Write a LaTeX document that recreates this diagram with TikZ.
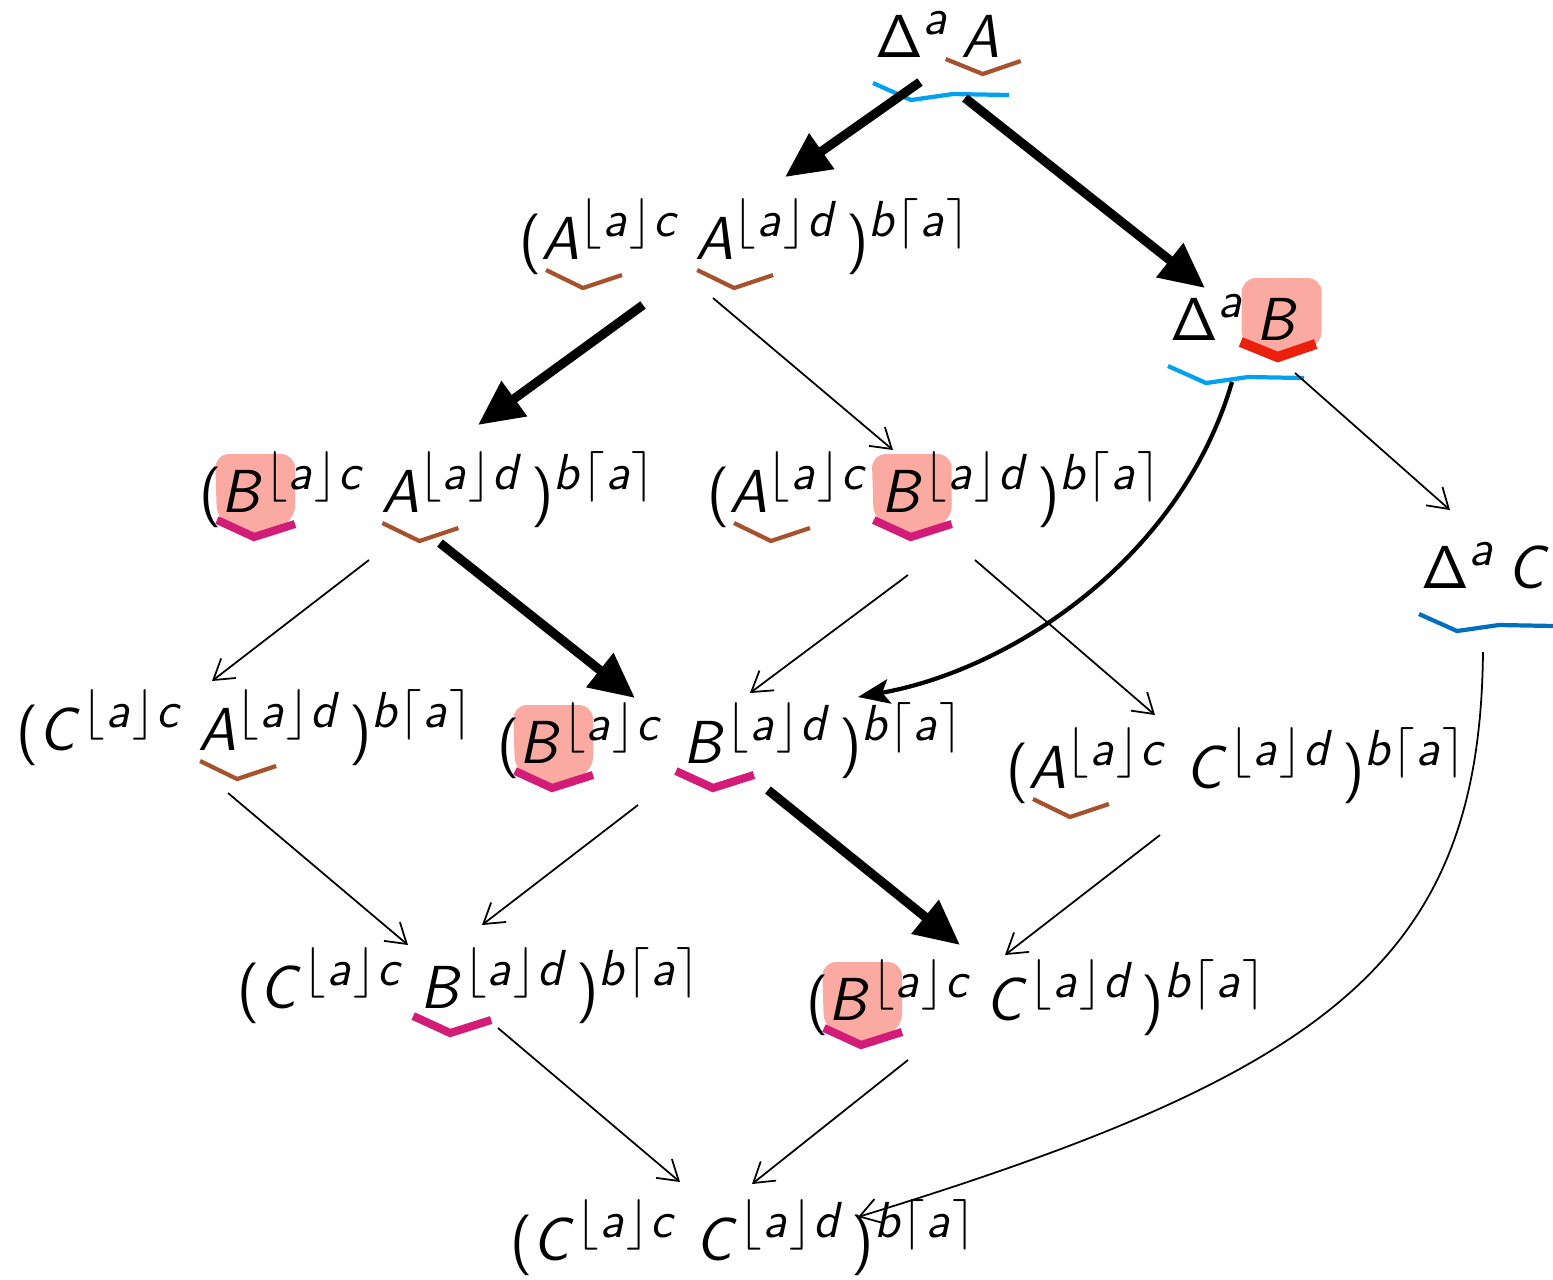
\documentclass[tikz,border=0pt]{standalone}
\usetikzlibrary{arrows.meta, calc, backgrounds}
% sans serif math: upright operators, slanted letters
\DeclareSymbolFont{operators}{OT1}{cmss}{m}{n}
\DeclareSymbolFont{letters}{OT1}{cmss}{m}{sl}
\DeclareMathSizes{18.4}{18.4}{14}{10}
\newcommand{\supc}{^{\lfloor\mkern.5mu a\mkern.5mu\rfloor\mkern.5mu c}}
\newcommand{\supd}{^{\lfloor\mkern.5mu a\mkern.5mu\rfloor\mkern.5mu d}\mkern2mu}
\newcommand{\supb}{^{b\mkern.5mu\lceil\mkern.5mu a\mkern.5mu\rceil}}
\definecolor{hlpink}{RGB}{250,170,160}
\definecolor{abrown}{RGB}{165,82,45}
\definecolor{bmagenta}{RGB}{210,28,120}
\definecolor{bred}{RGB}{235,32,12}
\definecolor{dblue}{RGB}{0,162,240}
\definecolor{dbluedark}{RGB}{0,112,190}
\begin{document}
\begin{tikzpicture}[x=0.1mm, y=-0.1mm,
    font=\fontsize{18.4}{22}\selectfont,
    term/.style={anchor=base west, inner sep=0pt},
    abrk/.style={draw=abrown, line width=1.2pt},
    bbrk/.style={draw=bmagenta, line width=2.3pt},
    rbrk/.style={draw=bred, line width=2.9pt},
    dln/.style={draw=dblue, line width=1.2pt},
    hl/.style={fill=hlpink, rounded corners=4pt},
    thin arr/.style={-{Straight Barb[length=5.5pt,width=7pt]}, line width=0.5pt},
    thick arr/.style={-{Triangle[length=12.8pt,width=11.8pt]}, line width=2.6pt},
    mid arr/.style={-{Stealth[length=9pt,width=7pt,inset=2pt]}, line width=1.2pt},
    uA/.pic={\draw (2,11) -- (39,29) -- (78,16);},
    uB/.pic={\draw (-7,8) -- (30,25) -- (71,12);},
    uD/.pic={\draw (-15,2) -- (22,17) -- (60,4);},
    uL/.pic={\draw (-2,26) -- (36,43) -- (78,37) -- (134,38);},
    hB/.pic={\fill (-9,-58) -- (71,-58) -- (71,8) -- (30,25) -- (-7,8) -- cycle;},
    hD/.pic={\fill (-14,-62) -- (66,-62) -- (66,5) -- (22,18) -- (-14,5) -- cycle;}
]
\useasboundingbox (0,0) rectangle (1553,1279);
% Delta terms
\node[term] (dA1) at (875,57)  {$\Delta^{a}$};
\node[term] (dA2) at ([xshift=3pt]dA1.base east) {$A$};
\node[term] (dB1) at (1170,340) {$\Delta^{a}$};
\node[term] (dB2) at ([xshift=3pt]dB1.base east) {$B$};
\node[term] (dC1) at (1421,588) {$\Delta^{a}$};
\node[term] (dC2) at ([xshift=3pt]dC1.base east) {$C$};
% Pair terms
\node[term] (aa1) at (519,259)  {$(A\supc$};
\node[term] (aa2) at ([xshift=3.7pt]aa1.base east) {$A\supd)\supb$};
\node[term] (ba1) at (199,512)  {$(B\supc$};
\node[term] (ba2) at ([xshift=3.7pt]ba1.base east) {$A\supd)\supb$};
\node[term] (ab1) at (707,512)  {$(A\supc$};
\node[term] (ab2) at ([xshift=3pt]ab1.base east) {$B\supd)\supb$};
\node[term] (ca1) at (16,750)   {$(C\supc$};
\node[term] (ca2) at ([xshift=3.7pt]ca1.base east) {$A\supd)\supb$};
\node[term] (bb1) at (497,763)  {$(B\supc$};
\node[term] (bb2) at ([xshift=5pt]bb1.base east) {$B\supd)\supb$};
\node[term] (ac1) at (1006,788) {$(A\supc$};
\node[term] (ac2) at ([xshift=4.5pt]ac1.base east) {$C\supd)\supb$};
\node[term] (cb1) at (237,1008) {$(C\supc$};
\node[term] (cb2) at ([xshift=4pt]cb1.base east) {$B\supd)\supb$};
\node[term] (bc1) at (806,1020) {$(B\supc$};
\node[term] (bc2) at ([xshift=3pt]bc1.base east) {$C\supd)\supb$};
\node[term] (cc1) at (510,1260) {$(C\supc$};
\node[term] (cc2) at ([xshift=4.5pt]cc1.base east) {$C\supd)\supb$};
% Highlights behind the new B
\begin{scope}[on background layer]
  \pic[hl] at (dB2.base west) {hD};
  \pic[hl] at ($(ba1.base west)+(25,0)$) {hB};
  \pic[hl] at (ab2.base west) {hB};
  \pic[hl] at ($(bb1.base west)+(25,0)$) {hB};
  \pic[hl] at ($(bc1.base west)+(25,0)$) {hB};
\end{scope}
% Brackets under A
\pic[abrk] at (dA2.base west) {uD};
\pic[abrk] at ($(aa1.base west)+(25,0)$) {uA};
\pic[abrk] at (aa2.base west) {uA};
\pic[abrk] at (ba2.base west) {uA};
\pic[abrk] at ($(ab1.base west)+(25,0)$) {uA};
\pic[abrk] at (ca2.base west) {uA};
\pic[abrk] at ($(ac1.base west)+(25,0)$) {uA};
% Brackets under B
\pic[rbrk] at (dB2.base west) {uD};
\pic[bbrk] at ($(ba1.base west)+(25,0)$) {uB};
\pic[bbrk] at (ab2.base west) {uB};
\pic[bbrk] at ($(bb1.base west)+(25,0)$) {uB};
\pic[bbrk] at (bb2.base west) {uB};
\pic[bbrk] at (cb2.base west) {uB};
\pic[bbrk] at ($(bc1.base west)+(25,0)$) {uB};
% Lines under the Delta terms
\pic[dln] at (dA1.base west) {uL};
\pic[dln] at (dB1.base west) {uL};
\pic[dln, draw=dbluedark] at (dC1.base west) {uL};
% Thick steps
\draw[thick arr] ($(dA1.base west)+(45,25)$) -- ($(aa1.base west)+(266,-82)$);
\draw[thick arr] ($(dA1.base west)+(90,41)$) -- ($(dB1.base west)+(35,-52)$);
\draw[thick arr] ($(aa1.base west)+(124,46)$) -- ($(ba1.base west)+(279,-87)$);
\draw[thick arr] ($(ba1.base west)+(241,31)$) -- ($(bb1.base west)+(138,-65)$);
\draw[thick arr] ($(bb1.base west)+(271,27)$) -- ($(bc1.base west)+(154,-75)$);
\draw[mid arr] ($(dB1.base west)+(62,42)$) .. controls +(-52,178) and +(152,-27) .. ($(bb1.base west)+(361,-66)$);
% Thin steps
\draw[thin arr] ($(aa1.base west)+(194,39)$) -- ($(ab1.base west)+(186,-62)$);
\draw[thin arr] ($(dB1.base west)+(125,33)$) -- ($(dC1.base west)+(29,-78)$);
\draw[thin arr] ($(ba1.base west)+(170,48)$) -- ($(ca1.base west)+(196,-69)$);
\draw[thin arr] ($(ab1.base west)+(201,63)$) -- ($(bb1.base west)+(253,-70)$);
\draw[thin arr] ($(ab1.base west)+(268,48)$) -- ($(ac1.base west)+(149,-73)$);
\draw[thin arr] ($(ca1.base west)+(212,43)$) -- ($(cb1.base west)+(171,-63)$);
\draw[thin arr] ($(bb1.base west)+(141,42)$) -- ($(cb1.base west)+(245,-83)$);
\draw[thin arr] ($(ac1.base west)+(154,47)$) -- ($(bc1.base west)+(199,-65)$);
\draw[thin arr] ($(cb1.base west)+(261,20)$) -- ($(cc1.base west)+(170,-78)$);
\draw[thin arr] ($(bc1.base west)+(102,40)$) -- ($(cc1.base west)+(242,-76)$);
\draw[thin arr] ($(dC1.base west)+(62,64)$) .. controls +(-3,308) and +(472,-145) .. ($(cc1.base west)+(348,-43)$);
\end{tikzpicture}
\end{document}
